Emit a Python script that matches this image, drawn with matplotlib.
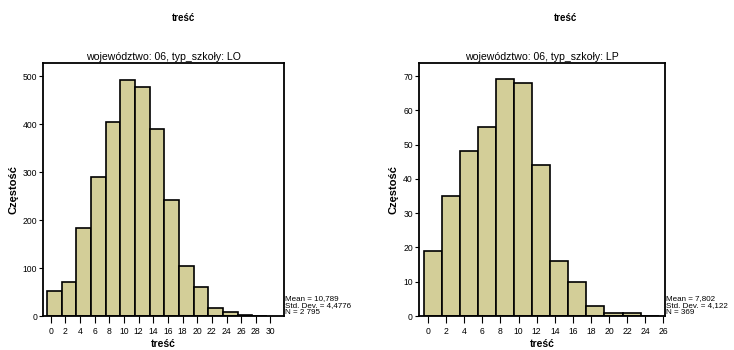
import numpy as np
import matplotlib.pyplot as plt

plt.rcParams['font.family'] = ['Liberation Sans', 'DejaVu Sans']

# histogram counts, bins of width 2 starting at -0.5
lo_counts = [52, 71, 183, 290, 405, 492, 477, 391, 242, 105, 60, 17, 8, 2, 0]
lp_counts = [19, 35, 48, 55, 69, 68, 44, 16, 10, 3, 1, 1, 0]
bin_start = -0.5
bin_width = 2

lo_ticks = list(range(0, 31, 2))
lp_ticks = list(range(0, 27, 2))

lo_stats = "Mean = 10,789\nStd. Dev. = 4,4776\nN = 2 795"
lp_stats = "Mean = 7,802\nStd. Dev. = 4,122\nN = 369"

BAR_COLOR = '#d3ce98'

fig = plt.figure(figsize=(7.34, 3.5), dpi=100)


def panel(rect, counts, ticks, xlim, ylim, yticks, subtitle, stats, title_x):
    ax = fig.add_axes(rect)
    edges = bin_start + bin_width * np.arange(len(counts))
    ax.bar(edges, counts, width=bin_width, align='edge', color=BAR_COLOR,
           edgecolor='black', linewidth=1.2)
    ax.set_xlim(*xlim)
    ax.set_ylim(*ylim)
    ax.set_xticks(ticks)
    ax.set_yticks(yticks)
    ax.tick_params(axis='y', labelsize=6.2, direction='out', length=3,
                   width=0.8, pad=1.5)
    ax.tick_params(axis='x', labelsize=6.2, direction='out', length=5,
                   width=0.8, pad=3)
    for s in ax.spines.values():
        s.set_linewidth(1.3)
    ax.set_title(subtitle, fontsize=7.6, pad=2)
    ax.set_xlabel('treść', fontsize=7.5, fontweight='bold', labelpad=2)
    ax.set_ylabel('Częstość', fontsize=8, fontweight='bold', labelpad=3)
    ax.text(1.005, 0.0, stats, transform=ax.transAxes, fontsize=5.8,
            va='bottom', ha='left', linespacing=1.05)
    fig.text(title_x, 0.948, 'treść', fontsize=7, fontweight='bold',
             ha='center', va='center')
    return ax


panel([0.059, 0.097, 0.328, 0.723], lo_counts, lo_ticks, (-1.0, 31.85),
      (0, 528), [0, 100, 200, 300, 400, 500],
      'województwo: 06, typ_szkoły: LO', lo_stats, 183 / 734)
panel([0.571, 0.097, 0.335, 0.724], lp_counts, lp_ticks, (-1.0, 26.2),
      (0, 73.9), [0, 10, 20, 30, 40, 50, 60, 70],
      'województwo: 06, typ_szkoły: LP', lp_stats, 565 / 734)

plt.savefig('out.png', dpi=100)
